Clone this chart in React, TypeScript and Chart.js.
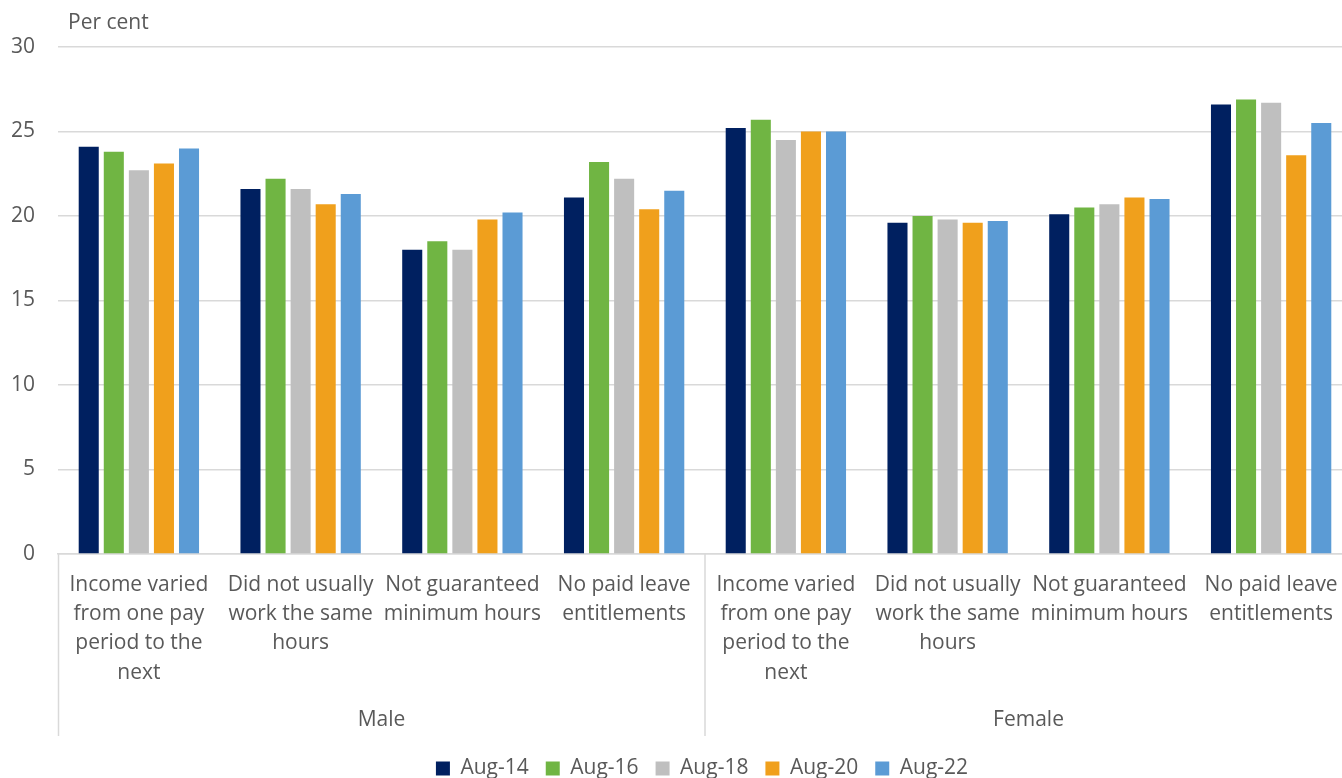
import React, { useEffect, useRef } from "react";
import { Chart, registerables } from "chart.js";

Chart.register(...registerables);

const categories: string[][] = [
  ["Income varied", "from one pay", "period to the", "next"],
  ["Did not usually", "work the same", "hours"],
  ["Not guaranteed", "minimum hours"],
  ["No paid leave", "entitlements"],
  ["Income varied", "from one pay", "period to the", "next"],
  ["Did not usually", "work the same", "hours"],
  ["Not guaranteed", "minimum hours"],
  ["No paid leave", "entitlements"],
];
const groups = ["Male", "Female"];
const seriesNames = ["Aug-14", "Aug-16", "Aug-18", "Aug-20", "Aug-22"];
const aug14 = [24.1, 21.6, 18.0, 21.1, 25.2, 19.6, 20.1, 26.6];
const aug16 = [23.8, 22.2, 18.5, 23.2, 25.7, 20.0, 20.5, 26.9];
const aug18 = [22.7, 21.6, 18.0, 22.2, 24.5, 19.8, 20.7, 26.7];
const aug20 = [23.1, 20.7, 19.8, 20.4, 25.0, 19.6, 21.1, 23.6];
const aug22 = [24.0, 21.3, 20.2, 21.5, 25.0, 19.7, 21.0, 25.5];
const colors = ["#002060", "#70B543", "#BFBFBF", "#F0A01C", "#5B9BD5"];
const yAxisTitle = "Per cent";

const FONT = "'Open Sans', sans-serif";
const FS = 21;
const TEXT = "#595959";
const GRID = "#d9d9d9";
const CANVAS_W = 1352;

export default function App() {
  const ref = useRef<HTMLCanvasElement | null>(null);

  useEffect(() => {
    if (!ref.current) return;
    const values = [aug14, aug16, aug18, aug20, aug22];

    const decorations = {
      id: "decorations",
      afterLayout(chart: any) {
        const lg = chart.legend;
        if (lg) {
          lg.left += 26;
          lg.right += 26;
        }
      },
      afterDraw(chart: any) {
        const { ctx, chartArea } = chart;
        const x = chart.scales.x;
        const x2 = chart.scales.x2;
        ctx.save();
        ctx.fillStyle = TEXT;
        ctx.font = `${FS}px ${FONT}`;
        ctx.textAlign = "left";
        ctx.textBaseline = "middle";
        ctx.fillText(yAxisTitle, chartArea.left + 10, chartArea.top - 24);
        ctx.strokeStyle = GRID;
        ctx.lineWidth = 1.5;
        const mid = (x2.getPixelForValue(0) + x2.getPixelForValue(1)) / 2;
        const xs = [x.left + 0.5, mid, x.right - 1];
        ctx.beginPath();
        xs.forEach((px) => {
          ctx.moveTo(px, x.top);
          ctx.lineTo(px, x2.bottom - 5);
        });
        ctx.stroke();
        ctx.restore();
      },
    };

    const chart = new Chart(ref.current, {
      type: "bar",
      data: {
        labels: categories as any,
        datasets: seriesNames.map((name, i) => ({
          label: name,
          data: values[i],
          backgroundColor: colors[i],
          borderWidth: 0,
          categoryPercentage: 0.775,
          barPercentage: 0.8,
          xAxisID: "x",
        })),
      },
      options: {
        animation: false,
        responsive: false,
        layout: { padding: { top: 47, left: 0, right: 0, bottom: -11 } },
        plugins: {
          legend: {
            position: "bottom",
            labels: {
              boxWidth: 14,
              boxHeight: 14,
              padding: 17,
              color: TEXT,
              font: { family: FONT, size: FS },
            },
          },
          tooltip: { enabled: false },
        },
        scales: {
          x: {
            type: "category",
            offset: true,
            grid: { display: false, drawTicks: false },
            border: { display: true, color: GRID, width: 1.5 },
            ticks: {
              autoSkip: false,
              maxRotation: 0,
              padding: 16,
              color: TEXT,
              font: { family: FONT, size: FS, lineHeight: 1.4 },
            },
            afterFit: (s: any) => {
              s.height = 133;
              s.paddingLeft = 0;
              s.paddingRight = 0;
            },
          },
          x2: {
            type: "category",
            labels: groups,
            offset: true,
            position: "bottom",
            grid: { display: false, drawTicks: false },
            border: { display: false },
            ticks: {
              padding: 20,
              color: TEXT,
              font: { family: FONT, size: FS, lineHeight: 1.2 },
            },
            afterFit: (s: any) => {
              s.height = 54;
              s.paddingLeft = 0;
              s.paddingRight = 0;
            },
          },
          y: {
            min: 0,
            max: 30,
            ticks: {
              stepSize: 5,
              padding: 23,
              color: TEXT,
              font: { family: FONT, size: FS },
            },
            grid: { color: GRID, lineWidth: 1.5, drawTicks: false },
            border: { display: false },
            afterFit: (s: any) => {
              s.width = 58;
            },
          },
        },
      } as any,
      plugins: [decorations],
    });
    return () => chart.destroy();
  }, []);

  return (
    <div style={{ position: "absolute", left: 0, top: 0, width: 1342, height: 778, overflow: "hidden", background: "#fff" }}>
      <canvas ref={ref} width={CANVAS_W} height={778} style={{ display: "block" }} />
    </div>
  );
}
